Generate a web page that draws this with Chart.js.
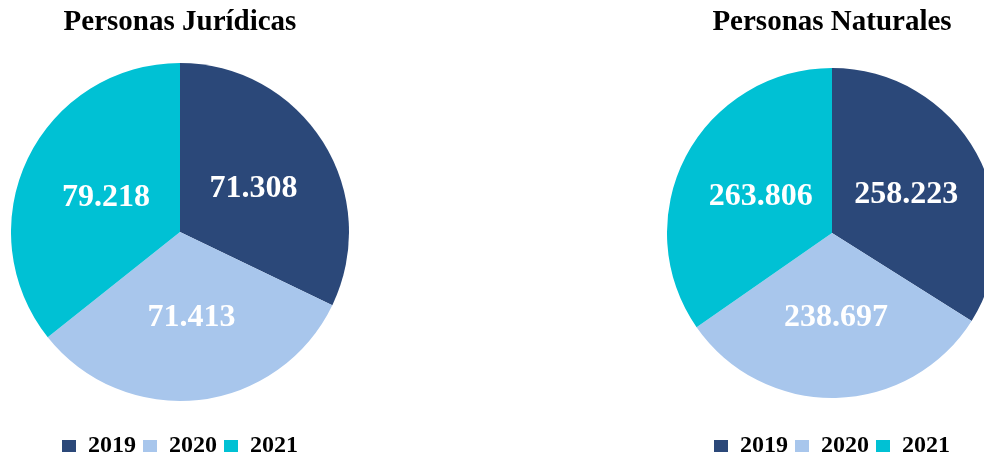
<!DOCTYPE html>
<html lang="es">
  <head>
    <meta charset="utf-8" />
    <title>Personas Jurídicas y Naturales</title>
    <style>
      * {
        margin: 0;
        padding: 0;
      }
      html,
      body {
        width: 984px;
        height: 458px;
        overflow: hidden;
        background: #fff;
      }
      .pieBox {
        position: absolute;
        top: 0;
        height: 468px;
      }
      #boxJur {
        left: 11px;
        width: 338px;
      }
      #boxNat {
        left: 667px;
        width: 330px;
      }
    </style>
  </head>
  <body>
    <div class="pieBox" id="boxJur"><canvas id="chartJur"></canvas></div>
    <div class="pieBox" id="boxNat"><canvas id="chartNat"></canvas></div>

    <script src="https://cdn.jsdelivr.net/npm/chart.js@4.4.1/dist/chart.umd.min.js"></script>
    <script>
      const years = ["2019", "2020", "2021"];
      const juridicas = [71308, 71413, 79218];
      const naturales = [258223, 238697, 263806];
      const sliceColors = ["#2B4879", "#A8C6EC", "#00C1D4"];

      const serif = "'Liberation Serif', 'Times New Roman', serif";

      // 71308 -> "71.308"
      const fmt = (v) => String(v).replace(/\B(?=(\d{3})+(?!\d))/g, ".");

      // white value labels in the middle of each slice
      const sliceLabels = {
        id: "sliceLabels",
        afterDatasetsDraw(chart) {
          const { ctx, data } = chart;
          ctx.save();
          ctx.font = "bold 32px " + serif;
          ctx.fillStyle = "#ffffff";
          ctx.textAlign = "center";
          ctx.textBaseline = "middle";
          chart.getDatasetMeta(0).data.forEach((arc, i) => {
            const p = arc.tooltipPosition();
            ctx.fillText(fmt(data.datasets[0].data[i]), p.x + 2, p.y + 2);
          });
          ctx.restore();
        },
      };

      const makePie = (id, title, values, titlePad) => {
        return new Chart(document.getElementById(id), {
          type: "pie",
          data: {
            labels: years,
            datasets: [
              {
                data: values,
                backgroundColor: sliceColors,
                borderWidth: 0,
              },
            ],
          },
          options: {
            responsive: true,
            maintainAspectRatio: false,
            animation: false,
            events: [],
            plugins: {
              title: {
                display: true,
                text: title,
                color: "#000",
                font: { family: serif, size: 29, weight: "bold", lineHeight: 1 },
                padding: titlePad,
              },
              legend: {
                position: "bottom",
                labels: {
                  color: "#000",
                  font: { family: serif, size: 24, weight: "bold" },
                  boxWidth: 14,
                  boxHeight: 12,
                  padding: 7,
                },
              },
              tooltip: { enabled: false },
            },
          },
          plugins: [sliceLabels],
        });
      };

      makePie("chartJur", "Personas Jurídicas", juridicas, { top: 8, bottom: 0 });
      makePie("chartNat", "Personas Naturales", naturales, { top: 8, bottom: 2 });
    </script>
  </body>
</html>
